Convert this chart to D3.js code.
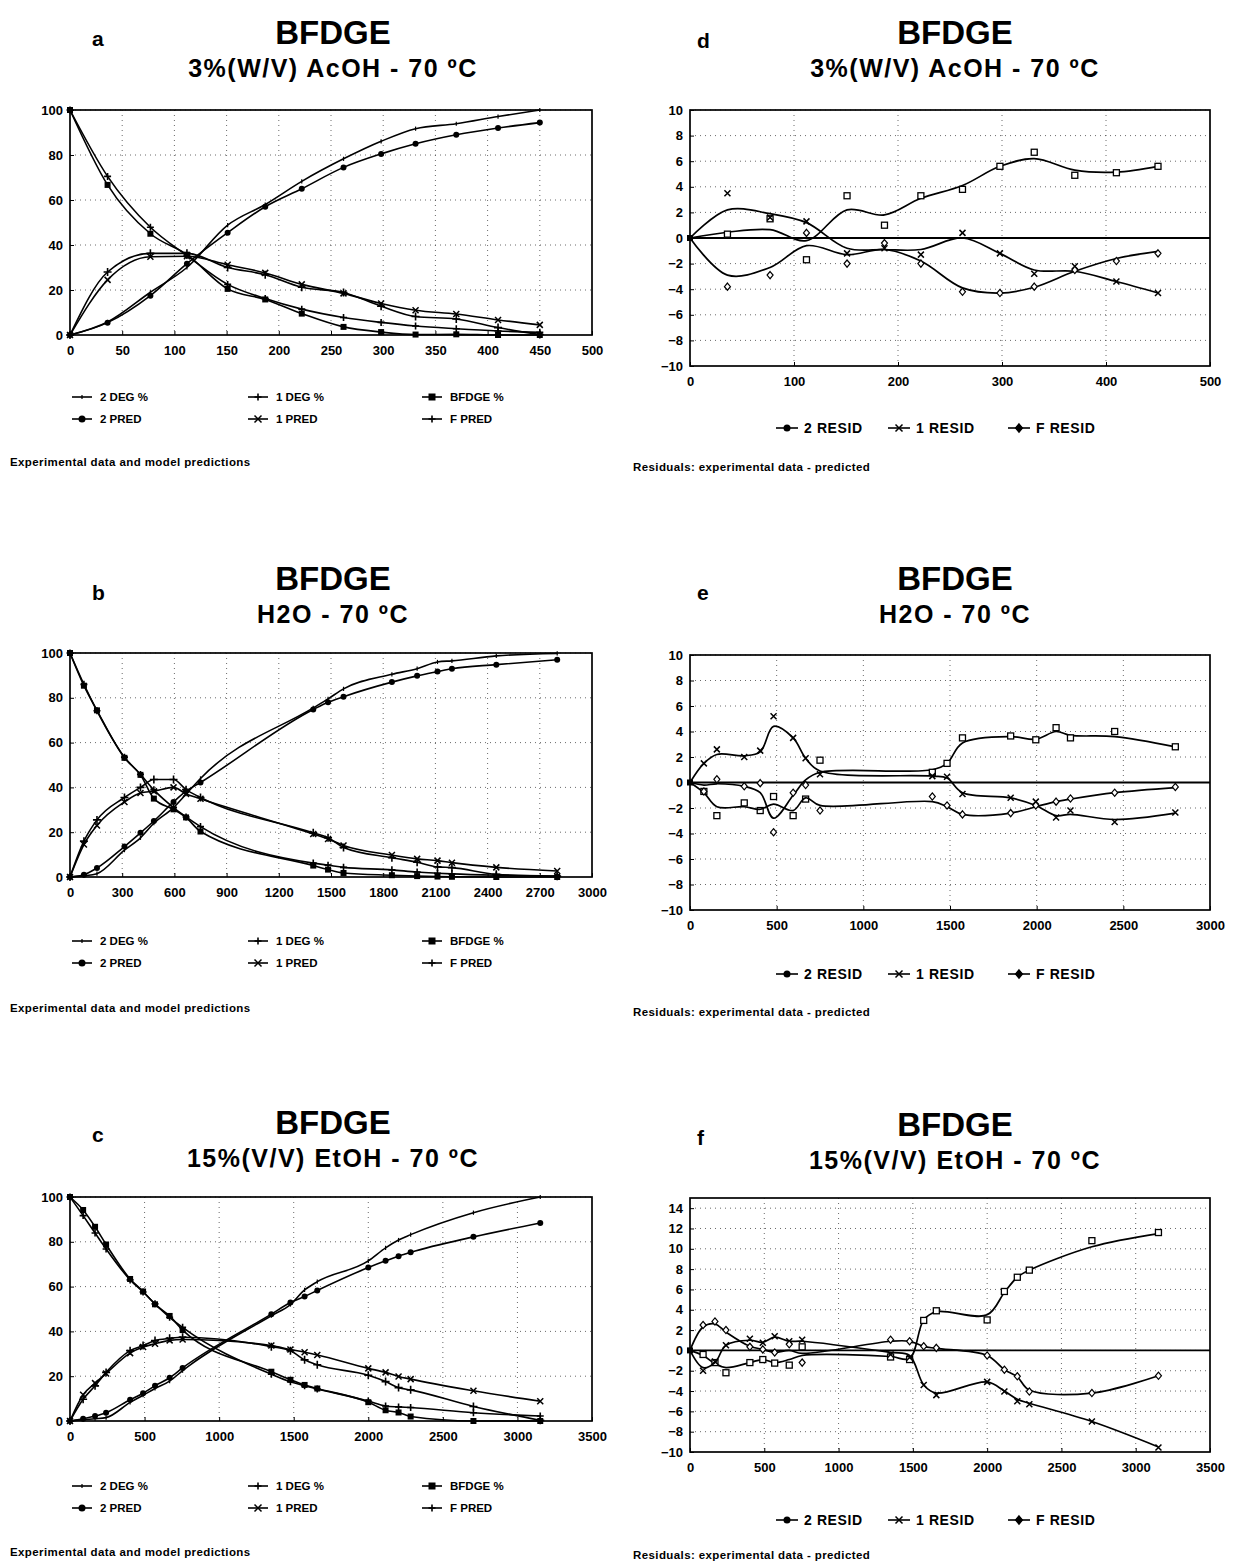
<!DOCTYPE html>
<html>
<head>
<meta charset="utf-8">
<script src="https://cdn.jsdelivr.net/npm/d3@7"></script>
<style>
  body { margin: 0; background: #fff; }
  svg { font-family: "Liberation Sans", Arial, sans-serif; font-weight: bold; }
  .grid line { stroke: #444; stroke-width: 0.8; stroke-dasharray: 1,4; }
  .axis text { font-size: 13px; font-weight: bold; fill: #000; }
  .axis line { stroke: #000; }
</style>
</head>
<body>
<svg id="fig" width="1242" height="1564"></svg>
<script>
// ---- tick labels ----
const axTicksA = [0, 50, 100, 150, 200, 250, 300, 350, 400, 450, 500];
const axTicksB = [0, 300, 600, 900, 1200, 1500, 1800, 2100, 2400, 2700, 3000];
const axTicksC = [0, 500, 1000, 1500, 2000, 2500, 3000, 3500];
const axTicksD = [0, 100, 200, 300, 400, 500];
const axTicksE = [0, 500, 1000, 1500, 2000, 2500, 3000];
const pctTicks = [0, 20, 40, 60, 80, 100];
const residTicks = [-10, -8, -6, -4, -2, 0, 2, 4, 6, 8, 10];
const residTicksF = [-10, -8, -6, -4, -2, 0, 2, 4, 6, 8, 10, 12, 14];

// ---- panel a / d : 3% AcOH ----
const aTime  = [0, 36, 77, 112, 151, 187, 222, 262, 298, 331, 370, 410, 450];
const aDeg2  = [0, 5.8, 19, 30, 48.8, 58, 68.3, 78.3, 86.1, 91.7, 93.9, 97.1, 100];
const aPred2 = [0, 5.5, 17.5, 31.7, 45.5, 57, 65, 74.5, 80.5, 85, 89, 92, 94.4];
const aDeg1  = [0, 28, 36.3, 36.3, 30, 26.8, 21.2, 18.9, 12.8, 8.2, 7.1, 3.3, 0.2];
const aPred1 = [0, 24.5, 34.8, 35, 31.2, 27.6, 22.5, 18.5, 14, 11, 9.3, 6.7, 4.5];
const aBfdge = [100, 66.7, 45, 35.7, 20.5, 15.8, 9.5, 3.6, 1.3, 0.2, 0.3, 0, 0];
const aPredF = [100, 70.5, 47.9, 35.3, 22.5, 16.2, 11.5, 7.8, 5.6, 4, 2.8, 1.8, 1.2];

const dResid2 = [0, 0.3, 1.5, -1.7, 3.3, 1.0, 3.3, 3.8, 5.6, 6.7, 4.9, 5.1, 5.6];
const dFit2   = [0, 0.45, 0.65, -0.2, 2.2, 1.8, 3.1, 4.1, 5.6, 6.2, 5.3, 5.15, 5.6];
const dResid1 = [0, 3.5, 1.6, 1.3, -1.2, -0.8, -1.3, 0.4, -1.2, -2.8, -2.2, -3.4, -4.3];
const dFit1   = [0, 2.2, 1.9, 1.2, -0.8, -0.9, -0.9, 0.0, -1.2, -2.5, -2.6, -3.4, -4.3];
const dResidF = [0, -3.8, -2.9, 0.4, -2.0, -0.4, -2.0, -4.2, -4.3, -3.8, -2.5, -1.8, -1.2];
const dFitF   = [0, -2.9, -2.3, -0.6, -1.3, -0.9, -1.8, -3.9, -4.3, -3.85, -2.6, -1.6, -1.05];

// ---- panel b / e : H2O ----
const bTime  = [0, 80, 155, 313, 405, 482, 595, 667, 750, 1398, 1483, 1572, 1850, 1995, 2112, 2195, 2450, 2800];
const bDeg2  = [0, 0.5, 1.5, 12, 17.5, 24, 31, 37, 44, 75.5, 79.5, 84, 90.5, 93, 96, 96.5, 98.7, 99.8];
const bPred2 = [0, 1, 4, 13.6, 19.7, 25, 33.5, 38.3, 42.2, 74.8, 78, 80.5, 87, 89.8, 91.7, 93, 94.8, 97];
const bDeg1  = [0, 16, 25.5, 35.5, 40, 43.5, 43.5, 39, 35.5, 19.7, 17.5, 13.2, 8.6, 6.6, 4.5, 4.2, 1.2, 0.3];
const bPred1 = [0, 14.5, 23, 33.5, 37.5, 38.3, 40, 37.1, 34.9, 19.2, 17, 14.1, 9.8, 8.1, 7.3, 6.4, 4.3, 2.7];
const bBfdge = [100, 85.4, 74.4, 53.2, 45.6, 35, 30.2, 26.6, 20.3, 5.1, 3.3, 1.8, 0.8, 0.4, 0.2, 0.1, 0, 0];
const bPredF = [100, 86, 74.2, 53.5, 45.8, 38.9, 31, 26.8, 22.5, 6.2, 5.3, 4.3, 3.2, 2.2, 1.7, 1.4, 0.8, 0.4];

const eResid2 = [0, -0.7, -2.6, -1.6, -2.2, -1.1, -2.6, -1.3, 1.75, 0.8, 1.5, 3.5, 3.65, 3.35, 4.3, 3.5, 4.0, 2.8];
const eFit2   = [0, -0.2, -0.1, -0.3, -0.8, -2.8, -1.0, 0.2, 0.8, 1.0, 1.5, 3.1, 3.6, 3.4, 4.0, 3.7, 3.6, 2.8];
const eResid1 = [0, 1.5, 2.6, 2.0, 2.5, 5.2, 3.5, 1.9, 0.65, 0.5, 0.45, -0.9, -1.2, -1.5, -2.75, -2.2, -3.1, -2.35];
const eFit1   = [0, 1.5, 2.2, 2.1, 2.4, 4.4, 3.5, 1.9, 0.9, 0.5, 0.35, -0.8, -1.2, -1.8, -2.6, -2.5, -2.9, -2.4];
const eResidF = [0, -0.7, 0.25, -0.3, -0.05, -3.9, -0.8, -0.2, -2.2, -1.1, -1.8, -2.5, -2.4, -1.8, -1.5, -1.25, -0.8, -0.35];
const eFitF   = [0, -0.8, -1.9, -1.9, -2.1, -1.7, -2.2, -1.2, -1.8, -1.5, -1.9, -2.5, -2.4, -1.9, -1.5, -1.3, -0.8, -0.4];

// ---- panel c / f : 15% EtOH ----
const cTime  = [0, 88, 168, 242, 403, 490, 570, 668, 755, 1350, 1478, 1573, 1658, 2000, 2116, 2203, 2284, 2705, 3153];
const cDeg2  = [0, 0.6, 1.0, 1.5, 8.3, 11.5, 14.5, 17.8, 22.5, 47, 52, 58.5, 62.2, 71.5, 77.3, 80.8, 83.2, 93, 100];
const cPred2 = [0, 1.0, 2.2, 3.7, 9.5, 12.4, 15.7, 19.3, 23.7, 47.7, 52.9, 55.6, 58.3, 68.5, 71.5, 73.6, 75.3, 82.2, 88.4];
const cDeg1  = [0, 9.7, 15.7, 21.7, 31.4, 33.7, 35.9, 36.9, 37.4, 33.2, 31.4, 27.3, 25.1, 20.4, 17.6, 14.9, 13.9, 6.5, 0.3];
const cPred1 = [0, 11.7, 16.9, 21.2, 30.3, 33, 34.5, 36, 36.4, 33.7, 31.9, 30.7, 29.5, 23.5, 21.7, 19.9, 18.7, 13.5, 8.8];
const cBfdge = [100, 94.2, 86.7, 78.8, 63.4, 57.8, 52.1, 46.9, 40.6, 22, 18.4, 16.1, 14.5, 8.4, 4.8, 3.8, 2, 0, 0];
const cPredF = [100, 91.7, 83.9, 76.8, 63, 57.6, 52.3, 46.3, 41.8, 20.9, 17.5, 15.7, 14.3, 8.9, 6.7, 6.3, 6, 3.7, 2.2];

const fResid2 = [0, -0.4, -1.2, -2.2, -1.2, -0.9, -1.25, -1.45, 0.35, -0.65, -0.9, 2.95, 3.9, 3.0, 5.8, 7.2, 7.9, 10.8, 11.6];
const fFit2   = [0, -0.5, -1.3, -1.7, -1.2, -0.9, -1.2, -0.9, -0.5, -0.6, -0.8, 3.0, 3.8, 3.5, 5.7, 7.2, 7.9, 10.2, 11.5];
const fResid1 = [0, -2.0, -1.1, 0.5, 1.15, 0.75, 1.4, 0.9, 1.05, -0.4, -0.7, -3.4, -4.4, -3.1, -4.05, -5.0, -5.3, -7.0, -9.55];
const fFit1   = [0, -1.7, -1.2, 0.5, 1.0, 0.8, 1.3, 0.9, 0.9, -0.2, -0.5, -3.4, -4.2, -3.1, -4.0, -4.8, -5.2, -7.0, -9.5];
const fResidF = [0, 2.5, 2.85, 2.0, 0.35, 0.1, -0.2, 0.6, -1.2, 1.05, 0.9, 0.4, 0.25, -0.5, -1.9, -2.55, -4.05, -4.2, -2.5];
const fFitF   = [0, 2.3, 2.6, 1.8, 0.4, 0.1, -0.2, 0.0, -0.3, 0.9, 0.9, 0.4, 0.2, -0.5, -1.9, -2.6, -3.9, -4.2, -2.5];

const subtitles = ['3%(W/V) AcOH - 70 ºC', 'H2O - 70 ºC', '15%(V/V) EtOH - 70 ºC'];
const kinLegend = [['2 DEG %', 'tick'], ['1 DEG %', 'plus'], ['BFDGE %', 'square'],
                   ['2 PRED', 'circle'], ['1 PRED', 'x'], ['F PRED', 'plus']];
const resLegend = [['2 RESID', 'circle'], ['1 RESID', 'x'], ['F RESID', 'diamond']];

const svg = d3.select('#fig');

// small marker glyphs drawn at 0,0 inside a group
function marker(g, type, s) {
  const h = s / 2;
  if (type === 'circle') g.append('circle').attr('r', h).attr('fill', '#000');
  else if (type === 'square') g.append('rect').attr('x', -h).attr('y', -h).attr('width', s).attr('height', s).attr('fill', '#000');
  else if (type === 'osquare') g.append('rect').attr('x', -h).attr('y', -h).attr('width', s).attr('height', s)
      .attr('fill', '#fff').attr('stroke', '#000').attr('stroke-width', 1.3);
  else if (type === 'diamond' || type === 'odiamond') g.append('path').attr('d', `M0,${-h * 1.2}L${h},0L0,${h * 1.2}L${-h},0Z`)
      .attr('fill', type === 'diamond' ? '#000' : '#fff').attr('stroke', '#000').attr('stroke-width', 1.2);
  else if (type === 'plus') g.append('path').attr('d', `M${-h},0H${h}M0,${-h}V${h}`).attr('stroke', '#000').attr('stroke-width', 1.6);
  else if (type === 'x') g.append('path').attr('d', `M${-h},${-h}L${h},${h}M${-h},${h}L${h},${-h}`).attr('stroke', '#000').attr('stroke-width', 1.5);
  else if (type === 'tick') g.append('path').attr('d', `M0,${-h * 0.6}V${h * 0.6}`).attr('stroke', '#000').attr('stroke-width', 1.2);
}

function heading(p) {
  svg.append('text').attr('x', p.letterX).attr('y', p.letterY).attr('font-size', 21).text(p.letter);
  svg.append('text').attr('x', p.cx).attr('y', p.titleY).attr('text-anchor', 'middle')
      .attr('font-size', 33).text('BFDGE');
  svg.append('text').attr('x', p.cx).attr('y', p.titleY + 33).attr('text-anchor', 'middle')
      .attr('font-size', 25).attr('letter-spacing', 1.5).text(p.subtitle);
}

function frame(p, x, y) {
  const g = svg.append('g');
  const grid = g.append('g').attr('class', 'grid');
  grid.selectAll('.gx').data(p.xTicks.slice(1, -1)).join('line')
      .attr('x1', d => x(d)).attr('x2', d => x(d)).attr('y1', p.top).attr('y2', p.bottom);
  grid.selectAll('.gy').data(p.yTicks.slice(1)).join('line').attr('class', 'gy')
      .attr('x1', p.left).attr('x2', p.right).attr('y1', d => y(d)).attr('y2', d => y(d));

  g.append('g').attr('class', 'axis').attr('transform', `translate(0,${p.bottom})`)
      .call(d3.axisBottom(x).tickValues(p.xTicks).tickSize(-4).tickPadding(11).tickFormat(d3.format('d')))
      .call(a => a.select('.domain').remove());
  g.append('g').attr('class', 'axis').attr('transform', `translate(${p.left},0)`)
      .call(d3.axisLeft(y).tickValues(p.yTicks).tickSize(-4).tickPadding(7).tickFormat(d3.format('d')))
      .call(a => a.select('.domain').remove());

  g.append('rect').attr('x', p.left).attr('y', p.top)
      .attr('width', p.right - p.left).attr('height', p.bottom - p.top)
      .attr('fill', 'none').attr('stroke', '#000').attr('stroke-width', 1.7);
  return g;
}

function drawKinetics(p) {
  heading(p);
  const x = d3.scaleLinear().domain([0, p.xTicks[p.xTicks.length - 1]]).range([p.left, p.right]);
  const y = d3.scaleLinear().domain([0, 100]).range([p.bottom, p.top]);
  const g = frame(p, x, y);

  const line = d3.line().x(d => x(d[0])).y(d => y(d[1])).curve(d3.curveMonotoneX);
  p.series.forEach(s => {
    const pts = p.time.map((t, i) => [t, s.v[i]]);
    g.append('path').attr('d', line(pts)).attr('fill', 'none').attr('stroke', '#000').attr('stroke-width', 1.6);
    pts.forEach(d => marker(g.append('g').attr('transform', `translate(${x(d[0])},${y(d[1])})`), s.m, s.size));
  });

  // legend: two rows of three
  const cols = [72, 248, 422];
  kinLegend.forEach((it, i) => {
    const lx = cols[i % 3], ly = p.legendY + Math.floor(i / 3) * 22;
    svg.append('line').attr('x1', lx).attr('x2', lx + 20).attr('y1', ly).attr('y2', ly)
        .attr('stroke', '#000').attr('stroke-width', 1.6);
    marker(svg.append('g').attr('transform', `translate(${lx + 10},${ly})`), it[1], 7);
    svg.append('text').attr('x', lx + 28).attr('y', ly + 4).attr('font-size', 11.5).text(it[0]);
  });
  svg.append('text').attr('x', 10).attr('y', p.captionY).attr('font-size', 11.5)
      .attr('letter-spacing', 0.4).text('Experimental data and model predictions');
}

function drawResiduals(p) {
  heading(p);
  const x = d3.scaleLinear().domain([0, p.xTicks[p.xTicks.length - 1]]).range([p.left, p.right]);
  const y = d3.scaleLinear().domain(p.yDomain).range([p.bottom, p.top]);
  const g = frame(p, x, y);

  g.append('line').attr('x1', p.left).attr('x2', p.right).attr('y1', y(0)).attr('y2', y(0))
      .attr('stroke', '#000').attr('stroke-width', 1.8);

  const line = d3.line().x(d => x(d[0])).y(d => y(d[1])).curve(d3.curveCatmullRom.alpha(0.5));
  p.series.forEach(s => {
    g.append('path').attr('d', line(p.time.map((t, i) => [t, s.fit[i]])))
        .attr('fill', 'none').attr('stroke', '#000').attr('stroke-width', 1.7);
    p.time.forEach((t, i) => {
      if (i === 0) return;
      marker(g.append('g').attr('transform', `translate(${x(t)},${y(s.pts[i])})`), s.m, 6);
    });
  });
  marker(g.append('g').attr('transform', `translate(${x(0)},${y(0)})`), 'square', 6);

  const cols = [776, 888, 1008];
  resLegend.forEach((it, i) => {
    const lx = cols[i];
    svg.append('line').attr('x1', lx).attr('x2', lx + 22).attr('y1', p.legendY).attr('y2', p.legendY)
        .attr('stroke', '#000').attr('stroke-width', 1.6);
    marker(svg.append('g').attr('transform', `translate(${lx + 11},${p.legendY})`), it[1], 7);
    svg.append('text').attr('x', lx + 28).attr('y', p.legendY + 5).attr('font-size', 14)
        .attr('letter-spacing', 0.6).text(it[0]);
  });
  svg.append('text').attr('x', 633).attr('y', p.captionY).attr('font-size', 11.5)
      .attr('letter-spacing', 0.4).text('Residuals: experimental data - predicted');
}

function kinSeries(d2, p2, d1, p1, bf, pf) {
  return [
    { v: d2, m: 'tick', size: 7 }, { v: p2, m: 'circle', size: 6 },
    { v: d1, m: 'plus', size: 8 }, { v: p1, m: 'x', size: 6 },
    { v: bf, m: 'square', size: 6 }, { v: pf, m: 'plus', size: 7 }
  ];
}
function resSeries(r2, f2, r1, f1, rF, fF) {
  return [
    { pts: r2, fit: f2, m: 'osquare' },
    { pts: r1, fit: f1, m: 'x' },
    { pts: rF, fit: fF, m: 'odiamond' }
  ];
}

const L = { left: 70, right: 592, cx: 333, letterX: 92 };
const R = { left: 690, right: 1210, cx: 955, letterX: 697 };

drawKinetics({ ...L, letter: 'a', letterY: 46, titleY: 44, subtitle: subtitles[0],
  top: 110, bottom: 335, xTicks: axTicksA, yTicks: pctTicks, time: aTime,
  series: kinSeries(aDeg2, aPred2, aDeg1, aPred1, aBfdge, aPredF), legendY: 397, captionY: 466 });
drawKinetics({ ...L, letter: 'b', letterY: 600, titleY: 590, subtitle: subtitles[1],
  top: 653, bottom: 877, xTicks: axTicksB, yTicks: pctTicks, time: bTime,
  series: kinSeries(bDeg2, bPred2, bDeg1, bPred1, bBfdge, bPredF), legendY: 941, captionY: 1012 });
drawKinetics({ ...L, letter: 'c', letterY: 1142, titleY: 1134, subtitle: subtitles[2],
  top: 1197, bottom: 1421, xTicks: axTicksC, yTicks: pctTicks, time: cTime,
  series: kinSeries(cDeg2, cPred2, cDeg1, cPred1, cBfdge, cPredF), legendY: 1486, captionY: 1556 });

drawResiduals({ ...R, letter: 'd', letterY: 48, titleY: 44, subtitle: subtitles[0],
  top: 110, bottom: 366, xTicks: axTicksD, yTicks: residTicks, yDomain: [-10, 10], time: aTime,
  series: resSeries(dResid2, dFit2, dResid1, dFit1, dResidF, dFitF), legendY: 428, captionY: 471 });
drawResiduals({ ...R, letter: 'e', letterY: 600, titleY: 590, subtitle: subtitles[1],
  top: 655, bottom: 910, xTicks: axTicksE, yTicks: residTicks, yDomain: [-10, 10], time: bTime,
  series: resSeries(eResid2, eFit2, eResid1, eFit1, eResidF, eFitF), legendY: 974, captionY: 1016 });
drawResiduals({ ...R, letter: 'f', letterY: 1145, titleY: 1136, subtitle: subtitles[2],
  top: 1198, bottom: 1452, xTicks: axTicksC, yTicks: residTicksF, yDomain: [-10, 15], time: cTime,
  series: resSeries(fResid2, fFit2, fResid1, fFit1, fResidF, fFitF), legendY: 1520, captionY: 1559 });
</script>
</body>
</html>
